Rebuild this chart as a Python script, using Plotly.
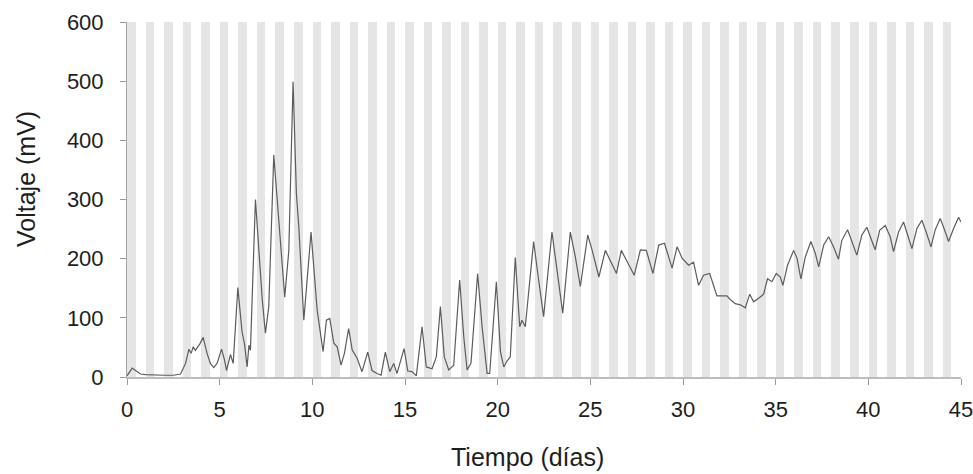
import plotly.graph_objects as go

# Time (days) and cell voltage (mV)
dias = [
    0.00, 0.15, 0.28, 0.46, 0.73, 1.00, 1.50, 2.00, 2.50, 2.89,
    3.16, 3.34, 3.46, 3.57, 3.69, 3.93, 4.11, 4.32, 4.50, 4.68,
    4.86, 5.10, 5.26, 5.37, 5.58, 5.73, 5.98, 6.21, 6.34, 6.48,
    6.58, 6.66, 6.93, 7.10, 7.30, 7.47, 7.65, 7.92, 8.10, 8.32,
    8.51, 8.73, 8.96, 9.14, 9.27, 9.54, 9.93, 10.26, 10.58, 10.76,
    10.94, 11.16, 11.34, 11.55, 11.73, 11.96, 12.15, 12.41, 12.68, 12.99,
    13.22, 13.49, 13.71, 13.94, 14.18, 14.39, 14.57, 14.95, 15.15, 15.38,
    15.61, 15.92, 16.15, 16.46, 16.69, 16.91, 17.12, 17.36, 17.63, 17.95,
    18.17, 18.35, 18.56, 18.92, 19.16, 19.43, 19.57, 19.93, 20.15, 20.33,
    20.50, 20.68, 20.95, 21.19, 21.31, 21.49, 21.94, 22.21, 22.48, 22.93,
    23.20, 23.51, 23.92, 24.19, 24.46, 24.86, 25.10, 25.46, 25.81, 26.08,
    26.41, 26.67, 26.94, 27.37, 27.70, 28.02, 28.38, 28.69, 29.00, 29.41,
    29.68, 29.95, 30.30, 30.57, 30.84, 31.11, 31.44, 31.65, 31.83, 32.10,
    32.37, 32.55, 32.82, 33.09, 33.36, 33.60, 33.81, 34.08, 34.35, 34.56,
    34.80, 35.03, 35.25, 35.39, 35.64, 35.97, 36.15, 36.36, 36.60, 36.90,
    37.14, 37.32, 37.59, 37.86, 38.12, 38.39, 38.57, 38.88, 39.11, 39.38,
    39.65, 39.92, 40.14, 40.37, 40.61, 40.91, 41.18, 41.36, 41.63, 41.90,
    42.12, 42.35, 42.62, 42.89, 43.12, 43.38, 43.61, 43.88, 44.11, 44.33,
    44.60, 44.87, 45.00,
]
voltaje = [
    2, 10, 15, 11, 5, 4, 3, 3, 3, 5,
    23, 47, 40, 51, 45, 56, 67, 40, 23, 16,
    23, 47, 29, 11, 38, 23, 151, 76, 56, 17,
    54, 45, 300, 220, 130, 74, 119, 375, 299, 220,
    135, 213, 499, 310, 254, 96, 245, 113, 43, 96,
    99, 57, 51, 20, 40, 82, 46, 32, 9, 42,
    11, 6, 3, 42, 9, 23, 6, 48, 10, 9,
    2, 85, 17, 14, 34, 119, 34, 12, 20, 164,
    68, 12, 23, 175, 85, 6, 6, 161, 43, 17,
    27, 34, 202, 85, 96, 85, 229, 164, 102, 245,
    181, 108, 245, 203, 153, 240, 214, 169, 214, 197,
    175, 214, 197, 172, 215, 214, 175, 223, 226, 184,
    220, 201, 189, 194, 155, 172, 175, 155, 137, 137,
    137, 131, 124, 122, 117, 140, 127, 133, 140, 166,
    161, 175, 169, 155, 189, 214, 201, 166, 203, 229,
    209, 186, 223, 237, 220, 199, 231, 249, 229, 206,
    240, 253, 234, 215, 248, 256, 237, 212, 245, 262,
    240, 217, 251, 265, 245, 220, 249, 268, 249, 229,
    251, 270, 262,
]

# Dark periods: one band per day
dias_noche = list(range(0, 45))
duracion_noche = 0.46
y_max = 600

x_ticks = [0, 5, 10, 15, 20, 25, 30, 35, 40, 45]
y_ticks = [0, 100, 200, 300, 400, 500, 600]

FONT = "Liberation Sans, Arial, sans-serif"
TXT = "#1e1e1e"

fig = go.Figure()

fig.add_trace(go.Bar(
    x=[d + duracion_noche / 2 + 0.01 for d in dias_noche],
    y=[y_max] * len(dias_noche),
    width=duracion_noche,
    marker=dict(color="#e5e5e5", line=dict(width=0)),
    hoverinfo="skip",
    showlegend=False,
))

fig.add_trace(go.Scatter(
    x=dias, y=voltaje,
    mode="lines",
    line=dict(color="#5c5c5c", width=1.2),
    showlegend=False,
))

fig.update_layout(
    width=973, height=474,
    margin=dict(l=127, r=12, t=22, b=97, autoexpand=False),
    paper_bgcolor="white",
    plot_bgcolor="white",
    font=dict(family=FONT, color=TXT, size=22),
    bargap=0,
    xaxis=dict(
        range=[0, 45],
        tickvals=x_ticks,
        ticks="outside", ticklen=6, tickcolor="#9a9a9a",
        showline=True, linecolor="#bdbdbd", linewidth=2,
        showgrid=False, zeroline=False,
        tickfont=dict(size=22, color=TXT),
        ticklabelstandoff=6,
        ticklabeloverflow="allow",
        automargin=False,
    ),
    yaxis=dict(
        range=[0, y_max],
        tickvals=y_ticks,
        ticks="outside", ticklen=6, tickcolor="#9a9a9a",
        showline=True, linecolor="#a6a6a6", linewidth=1,
        showgrid=False, zeroline=False,
        tickfont=dict(size=22, color=TXT),
        ticklabelstandoff=12,
        ticklabeloverflow="allow",
        automargin=False,
    ),
    yaxis2=dict(
        overlaying="y", side="right", anchor="x",
        range=[0, 9.7], dtick=1,
        ticks="outside", ticklen=4, tickcolor="#a0a0a0",
        showline=True, linecolor="#b0b0b0", linewidth=1,
        showticklabels=False, showgrid=False, zeroline=False,
        automargin=False,
    ),
    annotations=[
        dict(text="Tiempo (días)", xref="paper", yref="paper",
             x=(527 - 127) / 834, y=-(457 - 377) / 355,
             xanchor="center", yanchor="middle", showarrow=False,
             font=dict(size=25, color=TXT, family=FONT)),
        dict(text="Voltaje (mV)", xref="paper", yref="paper",
             x=(26 - 127) / 834, y=1 - (179 - 22) / 355,
             xanchor="center", yanchor="middle", textangle=-90,
             showarrow=False,
             font=dict(size=25, color=TXT, family=FONT)),
    ],
)

fig.write_html("out.html")
